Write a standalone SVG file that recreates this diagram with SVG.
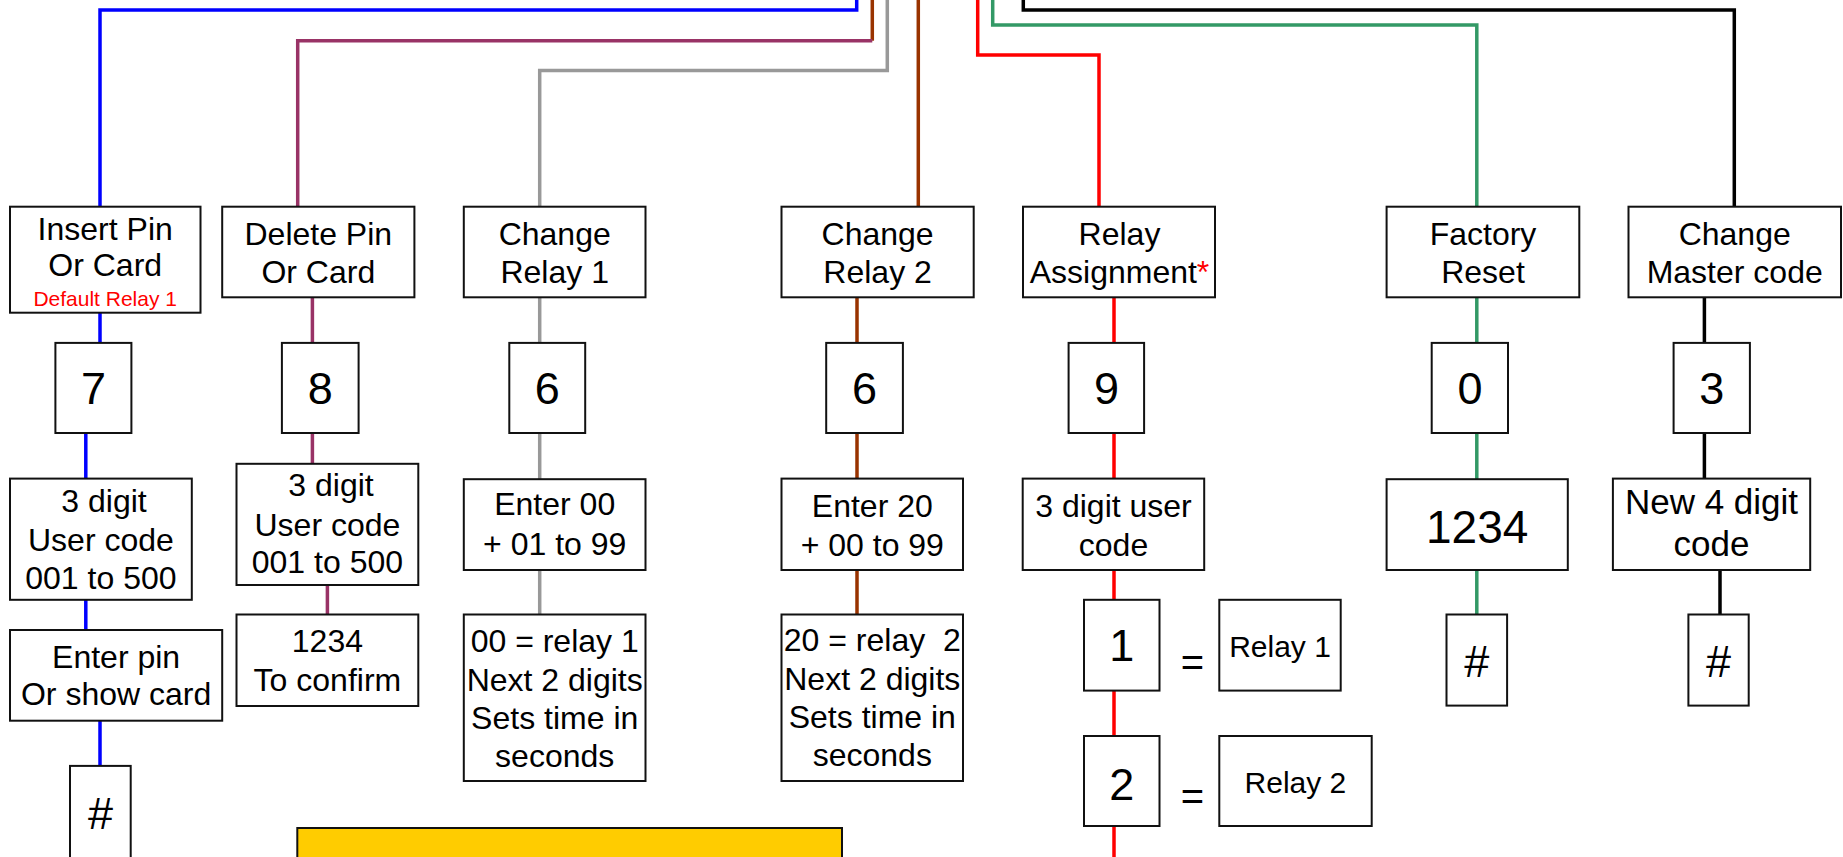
<svg xmlns="http://www.w3.org/2000/svg" width="1843" height="857" viewBox="0 0 1843 857">
<style>
.box{fill:#fff;stroke:#111;stroke-width:2}
text{font-family:"Liberation Sans",Arial,sans-serif;fill:#000;text-anchor:middle}
.t{font-size:32px}
.d{font-size:45px}
.s{font-size:30px}
.red{fill:#f00}
.c{fill:none;stroke-width:3.5;stroke-linejoin:miter}
.blue{stroke:#0000ff}.pur{stroke:#993366}.gray{stroke:#999}.brown{stroke:#993300}.redl{stroke:#ff0000}.green{stroke:#339966}.blk{stroke:#000}
</style>
<g id="connectors">
<path class="c blue" d="M856.7 0V10H100V206.7"/>
<path class="c brown" d="M872.3 0V40.7"/>
<path class="c pur" d="M872.3 40.7H297.7V206.7"/>
<path class="c gray" d="M887.3 0V70.5H539.7V206.7"/>
<path class="c brown" d="M918.3 0V206.7"/>
<path class="c redl" d="M977.7 0V55H1099V206.7"/>
<path class="c green" d="M992.7 0V25H1476.8V206.7"/>
<path class="c blk" d="M1023.3 0V10H1734.3V206.7"/>
<path class="c blue" d="M100 312.7V342.9M85.8 433V478.6M85.8 599.8V630M100 720.7V765.9"/>
<path class="c pur" d="M312.4 297.3V342.9M312.4 433V463.8M327.4 585V614.5"/>
<path class="c gray" d="M539.7 297.3V342.9M539.7 433V479.2M539.7 570V614.5"/>
<path class="c brown" d="M857 297.3V342.9M857 433V478.6M857 570V614.5"/>
<path class="c redl" d="M1114 297.3V342.9M1114 433V478.6M1114 570V599.8M1114 690.6V736M1114 826V857"/>
<path class="c green" d="M1476.8 297.3V342.9M1476.8 433V479.2M1476.8 570V614.5"/>
<path class="c blk" d="M1704.4 297.3V342.9M1704.4 433V478.6M1720 570V614.5"/>
</g>
<g id="insert">
<rect class="box" x="10" y="206.7" width="190.5" height="106"/>
<text class="t" x="105.2" y="240">Insert Pin</text>
<text class="t" x="105.2" y="276">Or Card</text>
<text class="red" x="105.2" y="306" font-size="21">Default Relay 1</text>
</g>
<g id="key7"><rect class="box" x="55.4" y="342.9" width="76" height="90.1"/><text class="d" x="93.4" y="404">7</text></g>
<g id="ins-code"><rect class="box" x="10" y="478.6" width="181.8" height="121.2"/>
<text class="t" x="104" y="512">3 digit</text><text class="t" x="100.9" y="550.5">User code</text><text class="t" x="100.9" y="589">001 to 500</text></g>
<g id="ins-pin"><rect class="box" x="10" y="630" width="212.2" height="90.7"/>
<text class="t" x="116.1" y="667.6">Enter pin</text><text class="t" x="116.1" y="705.3">Or show card</text></g>
<g id="ins-hash"><rect class="box" x="70" y="765.9" width="60.7" height="100"/><text class="d" x="100.4" y="829">#</text></g>

<g id="delete"><rect class="box" x="222.2" y="206.7" width="192.2" height="90.6"/>
<text class="t" x="318.3" y="245">Delete Pin</text><text class="t" x="318.3" y="283">Or Card</text></g>
<g id="key8"><rect class="box" x="281.9" y="342.9" width="76.7" height="90.1"/><text class="d" x="320.3" y="404">8</text></g>
<g id="del-code"><rect class="box" x="236.5" y="463.8" width="181.8" height="121.2"/>
<text class="t" x="331" y="496.4">3 digit</text><text class="t" x="327.4" y="535.5">User code</text><text class="t" x="327.4" y="573.4">001 to 500</text></g>
<g id="del-confirm"><rect class="box" x="236.5" y="614.5" width="181.8" height="91.5"/>
<text class="t" x="327.4" y="652.2">1234</text><text class="t" x="327.4" y="690.9">To confirm</text></g>

<g id="relay1"><rect class="box" x="463.8" y="206.7" width="181.7" height="90.6"/>
<text class="t" x="554.7" y="245">Change</text><text class="t" x="554.7" y="283">Relay 1</text></g>
<g id="key6a"><rect class="box" x="509.3" y="342.9" width="75.9" height="90.1"/><text class="d" x="547.3" y="404">6</text></g>
<g id="r1-enter"><rect class="box" x="463.8" y="479.2" width="181.7" height="90.8"/>
<text class="t" x="554.7" y="515.2">Enter 00</text><text class="t" x="554.7" y="554.6">+ 01 to 99</text></g>
<g id="r1-info"><rect class="box" x="463.8" y="614.5" width="181.7" height="166.5"/>
<text class="t" x="554.7" y="652">00 = relay 1</text><text class="t" x="554.7" y="690.5">Next 2 digits</text><text class="t" x="554.7" y="729">Sets time in</text><text class="t" x="554.7" y="767">seconds</text></g>

<g id="relay2"><rect class="box" x="781.5" y="206.7" width="192.2" height="90.6"/>
<text class="t" x="877.6" y="245">Change</text><text class="t" x="877.6" y="283">Relay 2</text></g>
<g id="key6b"><rect class="box" x="826.2" y="342.9" width="76.7" height="90.1"/><text class="d" x="864.6" y="404">6</text></g>
<g id="r2-enter"><rect class="box" x="781.5" y="478.6" width="181.5" height="91.4"/>
<text class="t" x="872.3" y="517">Enter 20</text><text class="t" x="872.3" y="555.6">+ 00 to 99</text></g>
<g id="r2-info"><rect class="box" x="781.5" y="614.5" width="181.5" height="166.5"/>
<text class="t" x="872.3" y="650.5" xml:space="preserve">20 = relay  2</text><text class="t" x="872.3" y="690">Next 2 digits</text><text class="t" x="872.3" y="728.2">Sets time in</text><text class="t" x="872.3" y="766.2">seconds</text></g>

<g id="assign"><rect class="box" x="1023" y="206.7" width="192" height="90.6"/>
<text class="t" x="1119.5" y="245">Relay</text><text class="t" x="1119.5" y="283">Assignment<tspan class="red">*</tspan></text></g>
<g id="key9"><rect class="box" x="1068.6" y="342.9" width="75.5" height="90.1"/><text class="d" x="1106.4" y="404">9</text></g>
<g id="as-code"><rect class="box" x="1022.7" y="478.6" width="181.5" height="91.4"/>
<text class="t" x="1113.5" y="517">3 digit user</text><text class="t" x="1113.5" y="556">code</text></g>
<g id="key1"><rect class="box" x="1084" y="599.8" width="75.5" height="90.8"/><text class="d" x="1121.7" y="661">1</text></g>
<g id="eq1"><text x="1192.5" y="676" font-size="40">=</text></g>
<g id="out1"><rect class="box" x="1219.3" y="599.8" width="121.4" height="90.8"/><text class="s" x="1280" y="657">Relay 1</text></g>
<g id="key2"><rect class="box" x="1084" y="736" width="75.5" height="90"/><text class="d" x="1121.7" y="800">2</text></g>
<g id="eq2"><text x="1192.5" y="810" font-size="40">=</text></g>
<g id="out2"><rect class="box" x="1219.3" y="736" width="152.4" height="90"/><text class="s" x="1295.4" y="792.7">Relay 2</text></g>

<g id="factory"><rect class="box" x="1386.6" y="206.7" width="192.7" height="90.6"/>
<text class="t" x="1483" y="245">Factory</text><text class="t" x="1483" y="283">Reset</text></g>
<g id="key0"><rect class="box" x="1431.7" y="342.9" width="76.3" height="90.1"/><text class="d" x="1469.9" y="404">0</text></g>
<g id="fr-code"><rect class="box" x="1386.6" y="479.2" width="181.2" height="90.8"/><text x="1477.2" y="542.6" font-size="46">1234</text></g>
<g id="fr-hash"><rect class="box" x="1446.5" y="614.5" width="60.6" height="91.1"/><text class="d" x="1476.8" y="677">#</text></g>

<g id="master"><rect class="box" x="1628.5" y="206.7" width="212.5" height="90.6"/>
<text class="t" x="1734.7" y="245">Change</text><text class="t" x="1734.7" y="283">Master code</text></g>
<g id="key3"><rect class="box" x="1673.6" y="342.9" width="76.3" height="90.1"/><text class="d" x="1711.8" y="404">3</text></g>
<g id="mc-code"><rect class="box" x="1612.9" y="478.6" width="197.3" height="91.4"/>
<text x="1711.5" y="513.5" font-size="35">New 4 digit</text><text x="1711.5" y="556.3" font-size="35">code</text></g>
<g id="mc-hash"><rect class="box" x="1688.4" y="614.5" width="60.3" height="91.1"/><text class="d" x="1718.6" y="677">#</text></g>

<g id="note"><rect x="297.3" y="828" width="544.7" height="60" fill="#ffcc00" stroke="#111" stroke-width="2"/></g>
</svg>
